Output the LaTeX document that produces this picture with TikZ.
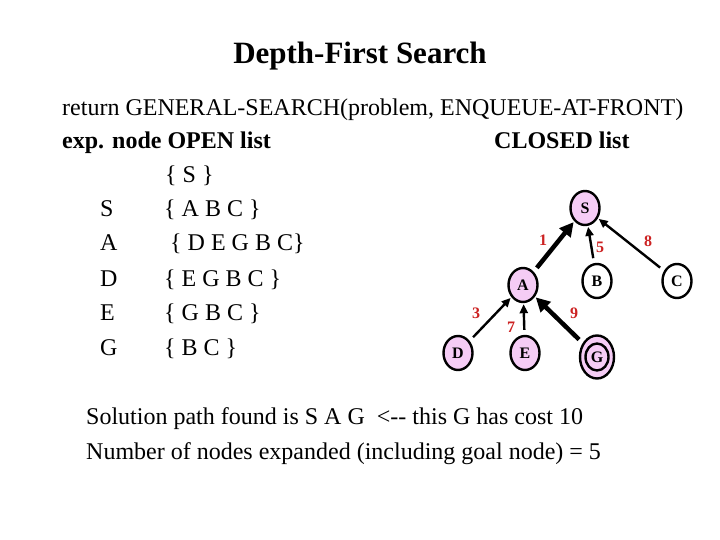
\documentclass[tikz,border=0pt]{standalone}
\usepackage{fontspec}
\setmainfont{Liberation Serif}
\usetikzlibrary{arrows.meta,shapes.geometric}
\definecolor{nodepink}{HTML}{F5CCF5}
\definecolor{lblred}{HTML}{CC2222}
\begin{document}
\begin{tikzpicture}[x=1pt,y=-1pt,
  txt/.style={anchor=base west,inner sep=0pt,font=\fontsize{24}{28}\selectfont},
  btxt/.style={anchor=base west,inner sep=0pt,font=\fontsize{24}{28}\selectfont\bfseries},
  tnode/.style={ellipse,draw,line width=2.4pt,minimum width=29pt,minimum height=34pt,inner sep=0pt,font=\fontsize{16}{18}\selectfont\bfseries},
  pnode/.style={tnode,fill=nodepink},
  wnode/.style={tnode,fill=white},
  thinarr/.style={line width=2.4pt,-{Triangle[length=9pt,width=8pt]},shorten <=5pt,shorten >=1pt},
  thickarr/.style={line width=4.5pt,-{Triangle[length=14pt,width=14pt]},shorten <=5pt,shorten >=1pt},
  lbl/.style={text=lblred,font=\fontsize{16}{18}\selectfont\bfseries,inner sep=0pt}
]
\useasboundingbox (0,0) rectangle (720,540);
% title
\node[anchor=base,inner sep=0pt,font=\fontsize{31}{36}\selectfont\bfseries] (title) at (360,64) {Depth-First Search};
\node[txt] (ret) at (62,116) {return GENERAL-SEARCH(problem, ENQUEUE-AT-FRONT)};
\node[btxt] (exp) at (62,149) {exp. node OPEN list};
\node[btxt] (closed) at (494,149) {CLOSED list};
\node[txt] (o0) at (165,183) {\{ S \}};
\node[txt] (e1) at (100,217) {S};
\node[txt] (o1) at (164,217) {\{ A B C \}};
\node[txt] (e2) at (100,251) {A};
\node[txt] (o2) at (170,251) {\{ D E G B C\}};
\node[txt] (e3) at (100,286) {D};
\node[txt] (o3) at (164,286) {\{ E G B C \}};
\node[txt] (e4) at (100,320) {E};
\node[txt] (o4) at (164,320) {\{ G B C \}};
\node[txt] (e5) at (100,355) {G};
\node[txt] (o5) at (164,355) {\{ B C \}};
\node[txt] (sol1) at (86,424) {Solution path found is S A G\ \ {<}{-}{-} this G has cost 10};
\node[txt] (sol2) at (86,459) {Number of nodes expanded (including goal node) = 5};
% tree
\node[pnode] (S) at (585,208) {S};
\node[pnode] (A) at (523,285) {A};
\node[wnode] (B) at (597,281) {B};
\node[wnode] (C) at (677,281) {C};
\node[pnode] (D) at (458,353) {D};
\node[pnode] (E) at (525,353) {E};
\node[tnode,fill=nodepink,minimum width=34pt,minimum height=43pt] (G) at (597,357) {};
\node[tnode,fill=nodepink,minimum width=23pt,minimum height=27pt] (Gi) at (597,357) {G};
\draw[thickarr] (A) -- (S);
\draw[thinarr] (B) -- (S);
\draw[thinarr] (C) -- (S);
\draw[thinarr] (D) -- (A);
\draw[thinarr] (E) -- (A);
\draw[thickarr] (G) -- (A);
\node[lbl] (l1) at (543,240) {1};
\node[lbl] (l5) at (600,247) {5};
\node[lbl] (l8) at (648,241) {8};
\node[lbl] (l3) at (476,313) {3};
\node[lbl] (l7) at (511,327) {7};
\node[lbl] (l9) at (574,313) {9};
\end{tikzpicture}
\end{document}
